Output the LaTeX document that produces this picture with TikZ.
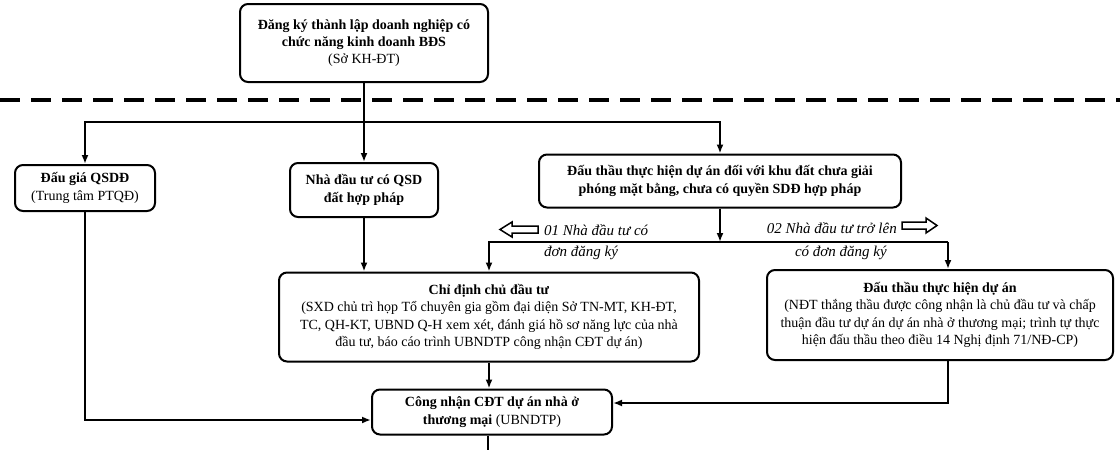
\documentclass[tikz,border=0pt]{standalone}
\usepackage{fontspec}
\setmainfont{Liberation Serif}
\usetikzlibrary{arrows.meta}
\begin{document}
\begin{tikzpicture}[x=1pt,y=-1pt,
  box/.style={draw, line width=2pt, rounded corners=8pt, align=center,
    inner sep=0pt, font=\fontsize{14}{17.4}\selectfont},
  conn/.style={line width=1.8pt},
  arr/.style={conn, -{Latex[length=9pt,width=7pt]}},
  lbl/.style={font=\fontsize{15}{17}\selectfont\itshape, inner sep=0pt},
  hollow/.style={draw, line width=1.5pt, line join=miter}
]
\useasboundingbox[fill=white] (0,0) rectangle (1120,450);

% boxes
\node[box, minimum width=248pt, minimum height=78pt] (top) at (364,43)
  {\textbf{Đăng ký thành lập doanh nghiệp có}\\\textbf{chức năng kinh doanh BĐS}\\(Sở KH-ĐT)};
\node[box, minimum width=140pt, minimum height=46pt] (dg) at (85,188)
  {\textbf{Đấu giá QSDĐ}\\(Trung tâm PTQĐ)};
\node[box, minimum width=148pt, minimum height=54pt] (nd) at (364,190)
  {\textbf{Nhà đầu tư có QSD}\\\textbf{đất hợp pháp}};
\node[box, minimum width=362pt, minimum height=53pt] (dt) at (720,181)
  {\textbf{Đấu thầu thực hiện dự án đối với khu đất chưa giải}\\\textbf{phóng mặt bằng, chưa có quyền SDĐ hợp pháp}};
\node[box, minimum width=420pt, minimum height=89pt] (cd) at (489,317)
  {\textbf{Chỉ định chủ đầu tư}\\(SXD chủ trì họp Tổ chuyên gia gồm đại diện Sở TN-MT, KH-ĐT,\\TC, QH-KT, UBND Q-H xem xét, đánh giá hồ sơ năng lực của nhà\\đầu tư, báo cáo trình UBNDTP công nhận CĐT dự án)};
\node[box, minimum width=346pt, minimum height=90pt] (dh) at (940,315)
  {\textbf{Đấu thầu thực hiện dự án}\\(NĐT thắng thầu được công nhận là chủ đầu tư và chấp\\thuận đầu tư dự án dự án nhà ở thương mại; trình tự thực\\hiện đấu thầu theo điều 14 Nghị định 71/NĐ-CP)};
\node[box, minimum width=240pt, minimum height=45pt] (cn) at (492,412)
  {\textbf{Công nhận CĐT dự án nhà ở}\\\textbf{thương mại} (UBNDTP)};

% dashed separator
\coordinate (sepL) at (0,100);
\coordinate (sepR) at (1120,100);
\draw[line width=4pt, dash pattern=on 20pt off 11pt] (sepL) -- (sepR);

% first branching
\coordinate (j) at (364,122);
\draw[conn] (top.south) -- (j);
\draw[arr] (j) -| (dg.north);
\draw[arr] (j) -- (nd.north);
\draw[arr] (j) -| (dt.north);

% second branching
\coordinate (k) at (720,242);
\coordinate (kr) at (948,242);
\draw[arr] (dt.south) -- (k);
\draw[arr] (k) -| (cd.north);
\draw[conn] (k) -- (kr);
\draw[arr] (kr) -- (kr |- dh.north);
\draw[arr] (nd.south) -- (nd.south |- cd.north);

% branch labels
\node[lbl, anchor=west] (l1) at (544,230) {01 Nhà đầu tư có};
\node[lbl, anchor=west] (l1b) at (544,253) {đơn đăng ký};
\node[lbl, anchor=east] (l2) at (897,228) {02 Nhà đầu tư trở lên};
\node[lbl, anchor=east] (l2b) at (887,253) {có đơn đăng ký};

% hollow direction arrows
\draw[hollow] (500,229.5) -- (512,222) -- (512,226) -- (538,226) -- (538,233)
  -- (512,233) -- (512,237) -- cycle;
\draw[hollow] (937,225.5) -- (926,218) -- (926,222) -- (902,222) -- (902,229)
  -- (926,229) -- (926,233) -- cycle;

% into recognition box
\draw[arr] (cd.south) -- (cd.south |- cn.north);
\draw[arr] (dg.south) |- ([yshift=-8pt]cn.west);
\coordinate (dhs) at (948,360);
\draw[arr] (dhs) |- ([yshift=9pt]cn.east);
\coordinate (out) at (488,450);
\draw[conn] (cn.south -| out) -- (out);
\end{tikzpicture}
\end{document}
